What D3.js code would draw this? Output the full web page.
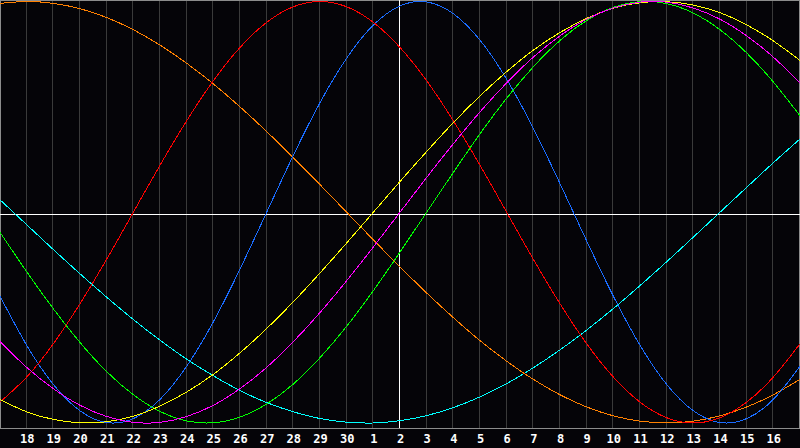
<!DOCTYPE html>
<html>
<head>
<meta charset="utf-8">
<script src="https://cdn.jsdelivr.net/npm/d3@7/dist/d3.min.js"></script>
<style>
  html, body { margin: 0; padding: 0; background: #050408; }
  svg { display: block; }
</style>
</head>
<body>
<svg id="chart" width="800" height="448"></svg>
<script>
// Day-of-month labels, one per day slot (slot 0 and 30 sit on the frame edges)
const dayLabels = [17,18,19,20,21,22,23,24,25,26,27,28,29,30,1,2,3,4,5,6,7,8,9,10,11,12,13,14,15,16,17];
const todayIndex = 15; // day "2"

// Cycle values per day (range -1..1)
const physical = [-0.398,-0.631,-0.817,-0.942,-0.998,-0.979,-0.888,-0.731,-0.520,-0.270,0,0.270,0.520,0.731,0.888,0.979,0.998,0.942,0.817,0.631,0.398,0.136,-0.136,-0.398,-0.631,-0.817,-0.942,-0.998,-0.979,-0.888,-0.731];
const emotional = [-0.901,-0.782,-0.624,-0.434,-0.223,0,0.223,0.434,0.624,0.782,0.901,0.975,1,0.975,0.901,0.782,0.624,0.434,0.223,0,-0.223,-0.434,-0.624,-0.782,-0.901,-0.975,-1,-0.975,-0.901,-0.782,-0.624];
const intellectual = [-0.095,-0.282,-0.458,-0.618,-0.756,-0.866,-0.945,-0.990,-0.999,-0.972,-0.910,-0.815,-0.690,-0.541,-0.372,-0.189,0,0.189,0.372,0.541,0.690,0.815,0.910,0.972,0.999,0.990,0.945,0.866,0.756,0.618,0.458];
const intuitive = [-0.614,-0.736,-0.837,-0.916,-0.969,-0.997,-0.997,-0.969,-0.916,-0.837,-0.736,-0.614,-0.476,-0.325,-0.165,0,0.165,0.325,0.476,0.614,0.736,0.837,0.916,0.969,0.997,0.997,0.969,0.916,0.837,0.736,0.614];
const aesthetic = [-0.889,-0.947,-0.983,-0.999,-0.994,-0.968,-0.920,-0.853,-0.769,-0.667,-0.552,-0.425,-0.288,-0.146,0,0.146,0.288,0.425,0.552,0.667,0.769,0.853,0.920,0.968,0.994,0.999,0.983,0.947,0.889,0.813,0.720];
const awareness = [0.991,1,0.991,0.966,0.924,0.866,0.793,0.707,0.609,0.5,0.383,0.259,0.131,0,-0.131,-0.259,-0.383,-0.5,-0.609,-0.707,-0.793,-0.866,-0.924,-0.966,-0.991,-1,-0.991,-0.966,-0.924,-0.866,-0.793];
const spiritual = [0.059,-0.059,-0.177,-0.292,-0.403,-0.509,-0.607,-0.697,-0.776,-0.846,-0.903,-0.947,-0.979,-0.996,-1.000,-0.989,-0.965,-0.927,-0.876,-0.813,-0.738,-0.653,-0.559,-0.457,-0.348,-0.235,-0.118,0,0.118,0.235,0.348];

const seriesNames = ["spiritual","awareness","physical","emotional","intellectual","aesthetic","intuitive"];
const seriesValues = [spiritual, awareness, physical, emotional, intellectual, aesthetic, intuitive];
const seriesColors = ["#00ffff","#ff8000","#1a6cff","#ff0000","#00ff00","#ffff00","#ff00ff"];

const W = 800, plotBottom = 428;
const svg = d3.select("#chart");

const x = d3.scaleLinear().domain([0, dayLabels.length - 1]).range([0, W]);
const y = d3.scaleLinear().domain([-1, 1]).range([423, 1.5]);
const px = v => Math.round(x(v)) + 0.5;

// background
svg.append("rect").attr("x",0).attr("y",0).attr("width",W).attr("height",448).attr("fill","#050408");

// vertical day grid
svg.append("g").selectAll("line")
  .data(d3.range(1, dayLabels.length - 1))
  .join("line")
  .attr("x1", d => px(d) - 1).attr("x2", d => px(d) - 1)
  .attr("y1", 0).attr("y2", plotBottom)
  .attr("stroke", "#3a3a3a").attr("stroke-width", 1)
  .attr("shape-rendering", "crispEdges");

// frame
svg.append("rect").attr("x",0.5).attr("y",0.5).attr("width",W-1).attr("height",plotBottom)
  .attr("fill","none").attr("stroke","#8c8c8c").attr("shape-rendering","crispEdges");

// centre cross (zero line and today)
svg.append("line").attr("x1",0).attr("x2",W).attr("y1",214.5).attr("y2",214.5)
  .attr("stroke","#ffffff").attr("shape-rendering","crispEdges");
svg.append("line").attr("x1",px(todayIndex)-1).attr("x2",px(todayIndex)-1).attr("y1",0).attr("y2",plotBottom)
  .attr("stroke","#ffffff").attr("shape-rendering","crispEdges");

// curves
const line = d3.line().x((d,i) => x(i)).y(d => y(d)).curve(d3.curveNatural);
svg.append("g").selectAll("path")
  .data(seriesValues)
  .join("path")
  .attr("d", d => line(d))
  .attr("fill","none")
  .attr("stroke",(d,i) => seriesColors[i])
  .attr("stroke-width",1)
  .attr("shape-rendering","crispEdges");

// day labels
const axis = d3.axisBottom(x)
  .tickValues(d3.range(1, dayLabels.length - 1))
  .tickSize(0)
  .tickFormat(i => dayLabels[i]);
const gAxis = svg.append("g").attr("transform", `translate(0,${plotBottom})`).call(axis);
gAxis.select(".domain").remove();
gAxis.selectAll("text")
  .attr("dy", 0).attr("y", 15)
  .attr("fill", "#ffffff")
  .style("font-family", "'DejaVu Sans Mono', monospace")
  .style("font-weight", "bold")
  .style("font-size", "12px");
</script>
</body>
</html>
